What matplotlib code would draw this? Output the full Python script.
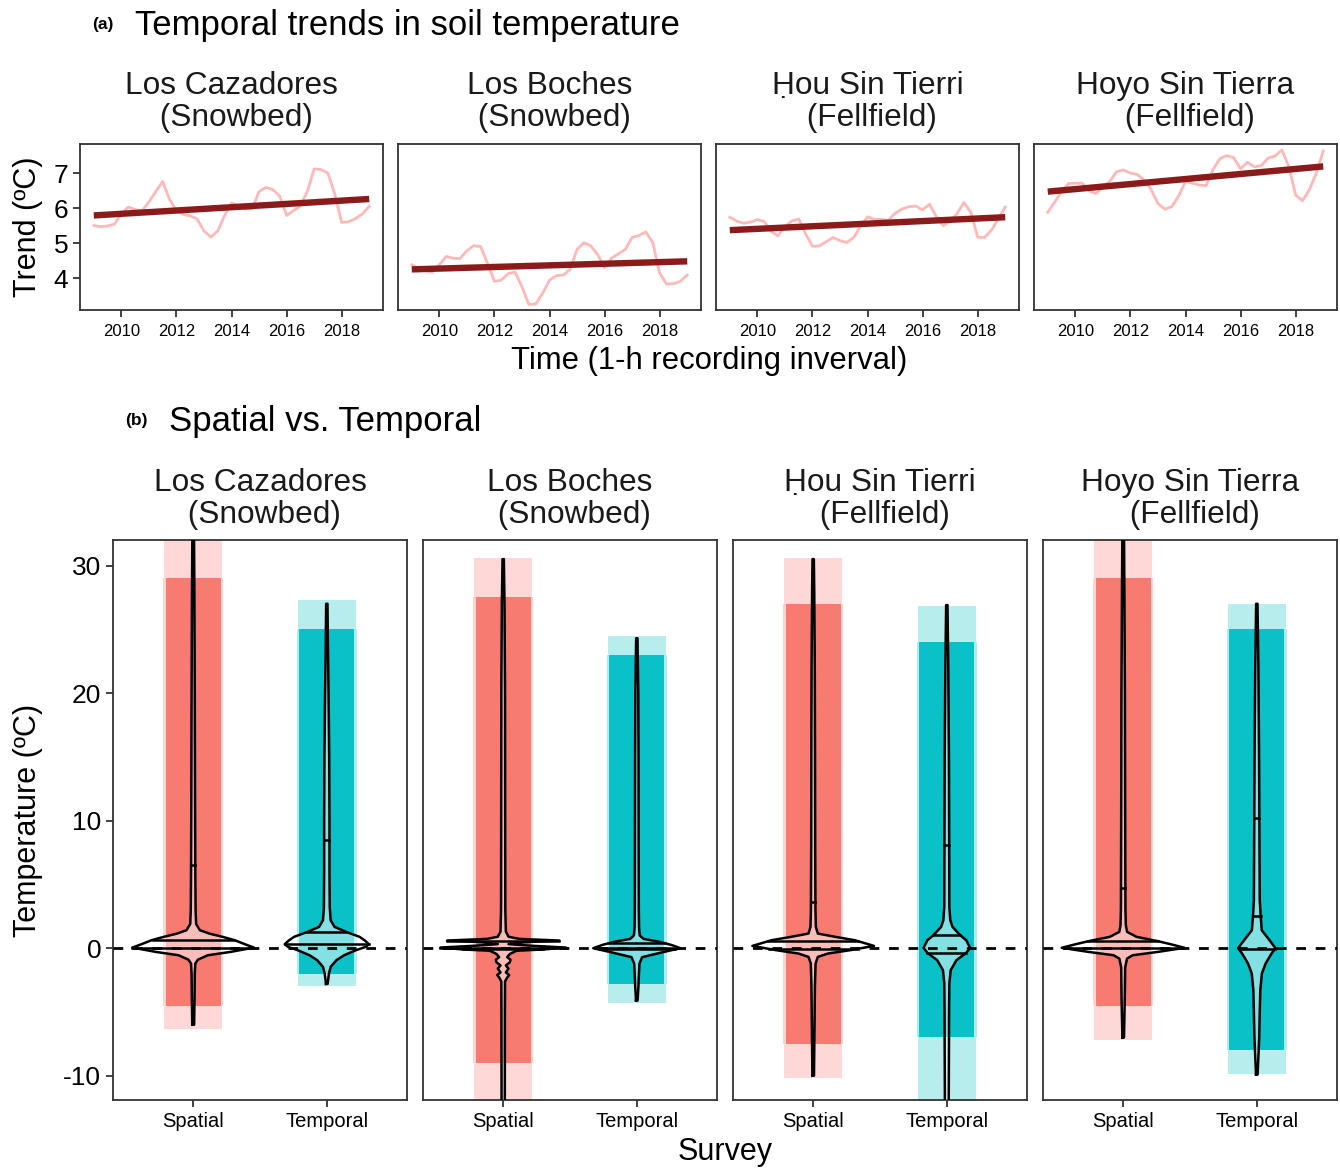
import numpy as np
import matplotlib
matplotlib.use("Agg")
import matplotlib.pyplot as plt

plt.rcParams["font.family"] = ["Liberation Sans", "DejaVu Sans"]
plt.rcParams["axes.unicode_minus"] = False

# ---- data -----------------------------------------------------------------
sites = ["Los Cazadores\n (Snowbed)", "Los Boches\n (Snowbed)",
         "Ḥou Sin Tierri\n (Fellfield)", "Hoyo Sin Tierra\n (Fellfield)"]

years = [2009.0, 2009.25, 2009.5, 2009.75, 2010.0, 2010.25, 2010.5, 2010.75,
         2011.0, 2011.25, 2011.5, 2011.75, 2012.0, 2012.25, 2012.5, 2012.75,
         2013.0, 2013.25, 2013.5, 2013.75, 2014.0, 2014.25, 2014.5, 2014.75,
         2015.0, 2015.25, 2015.5, 2015.75, 2016.0, 2016.25, 2016.5, 2016.75,
         2017.0, 2017.25, 2017.5, 2017.75, 2018.0, 2018.25, 2018.5, 2018.75,
         2019.0]

trend_cazadores = [5.50, 5.47, 5.49, 5.54, 5.83, 6.03, 5.96, 5.92, 6.17, 6.47,
                   6.76, 6.25, 5.93, 5.82, 5.78, 5.69, 5.35, 5.17, 5.35, 5.79,
                   6.15, 6.07, 5.98, 5.98, 6.47, 6.59, 6.53, 6.34, 5.79, 5.93,
                   6.06, 6.47, 7.12, 7.10, 7.00, 6.40, 5.59, 5.61, 5.70, 5.83,
                   6.05]
trend_boches = [4.38, 4.27, 4.21, 4.17, 4.38, 4.62, 4.57, 4.56, 4.78, 4.93,
                4.90, 4.42, 3.91, 3.94, 4.13, 4.17, 3.75, 3.25, 3.26, 3.57,
                3.94, 4.07, 4.09, 4.25, 4.82, 5.01, 4.92, 4.67, 4.30, 4.57,
                4.69, 4.82, 5.16, 5.22, 5.32, 5.01, 4.14, 3.83, 3.84, 3.91,
                4.09]
trend_hou = [5.74, 5.63, 5.57, 5.60, 5.67, 5.62, 5.33, 5.21, 5.47, 5.63,
             5.69, 5.27, 4.91, 4.92, 5.04, 5.16, 5.07, 5.02, 5.16, 5.49,
             5.75, 5.68, 5.68, 5.65, 5.85, 5.97, 6.04, 6.06, 5.95, 6.11,
             5.76, 5.50, 5.62, 5.84, 6.16, 5.88, 5.17, 5.16, 5.37, 5.69,
             6.03]
trend_hoyo = [5.88, 6.17, 6.47, 6.70, 6.71, 6.71, 6.49, 6.42, 6.60, 6.76,
              7.04, 7.09, 7.00, 6.96, 6.80, 6.53, 6.13, 5.97, 6.04, 6.34,
              6.76, 6.71, 6.66, 6.64, 7.10, 7.41, 7.50, 7.44, 7.12, 7.31,
              7.18, 7.21, 7.43, 7.49, 7.66, 7.19, 6.37, 6.21, 6.53, 7.00,
              7.63]
trend_series = [trend_cazadores, trend_boches, trend_hou, trend_hoyo]

# fitted linear trend (value at 2009 and at 2019)
fit_start = [5.79, 4.25, 5.37, 6.47]
fit_end = [6.26, 4.48, 5.74, 7.19]

surveys = ["Spatial", "Temporal"]

# jittered cloud extents: dense core and sparse tails (degC)
core_lo = [[-4.5, -2.0], [-9.0, -2.8], [-7.5, -7.0], [-4.5, -8.0]]
core_hi = [[29.0, 25.0], [27.5, 23.0], [27.0, 24.0], [29.0, 25.0]]
tail_lo = [[-6.3, -3.0], [-13.0, -4.3], [-10.2, -13.0], [-7.2, -9.9]]
tail_hi = [[33.0, 27.3], [30.6, 24.5], [30.6, 26.8], [33.0, 27.0]]

# violin outlines: temperature levels and half-widths
cz_sp_t = [-6.0, -4.0, -2.0, -1.2, -0.9, -0.55, -0.29, 0.05, 0.3, 0.63, 0.89, 1.15, 1.41, 1.9, 3.0, 6.0, 12.0, 20.0, 28.0, 33.0]
cz_sp_w = [0.007, 0.01, 0.012, 0.016, 0.035, 0.11, 0.28, 0.455, 0.39, 0.31, 0.22, 0.12, 0.05, 0.022, 0.018, 0.016, 0.014, 0.012, 0.009, 0.006]
cz_tm_t = [-2.8, -2.3, -1.98, -1.46, -0.94, -0.55, -0.16, 0.1, 0.31, 0.6, 0.89, 1.28, 1.67, 2.19, 3.2, 6.0, 10.0, 15.0, 20.0, 24.0, 27.0]
cz_tm_w = [0.006, 0.012, 0.016, 0.029, 0.072, 0.13, 0.217, 0.29, 0.315, 0.285, 0.245, 0.145, 0.058, 0.029, 0.022, 0.02, 0.02, 0.018, 0.013, 0.008, 0.005]
bo_sp_t = [-13.0, -5.0, -2.6, -2.3, -2.1, -1.9, -1.6, -1.35, -1.1, -0.9, -0.7, -0.45, -0.2, -0.1, 0.05, 0.2, 0.32, 0.47, 0.6, 0.73, 0.9, 1.3, 3.0, 10.0, 20.0, 27.0, 30.5]
bo_sp_w = [0.012, 0.013, 0.014, 0.03, 0.045, 0.02, 0.04, 0.02, 0.05, 0.055, 0.03, 0.05, 0.1, 0.3, 0.47, 0.2, 0.04, 0.15, 0.42, 0.12, 0.04, 0.02, 0.016, 0.015, 0.014, 0.01, 0.005]
bo_tm_t = [-4.1, -3.0, -2.0, -1.2, -0.7, -0.3, 0.0, 0.25, 0.5, 0.73, 1.0, 1.6, 3.0, 8.0, 15.0, 20.0, 24.3]
bo_tm_w = [0.006, 0.012, 0.016, 0.02, 0.04, 0.2, 0.326, 0.26, 0.17, 0.05, 0.022, 0.017, 0.015, 0.014, 0.013, 0.011, 0.005]
hu_sp_t = [-10.0, -6.0, -3.0, -1.2, -0.68, -0.42, -0.15, 0.18, 0.63, 0.89, 1.15, 1.67, 3.0, 8.0, 15.0, 22.0, 28.0, 30.5]
hu_sp_w = [0.006, 0.01, 0.013, 0.018, 0.035, 0.11, 0.28, 0.455, 0.31, 0.165, 0.035, 0.02, 0.017, 0.015, 0.014, 0.012, 0.008, 0.005]
hu_tm_t = [-13.0, -8.0, -5.0, -2.76, -1.72, -0.94, -0.37, 0.03, 0.63, 1.02, 1.67, 2.19, 3.23, 8.0, 15.0, 22.0, 26.9]
hu_tm_w = [0.014, 0.016, 0.017, 0.019, 0.029, 0.072, 0.145, 0.174, 0.145, 0.10, 0.043, 0.026, 0.019, 0.018, 0.016, 0.011, 0.005]
ho_sp_t = [-7.0, -4.0, -1.5, -0.81, -0.55, -0.29, 0.03, 0.3, 0.55, 0.89, 1.28, 1.8, 3.0, 10.0, 20.0, 28.0, 33.0]
ho_sp_w = [0.006, 0.012, 0.015, 0.029, 0.072, 0.26, 0.46, 0.36, 0.26, 0.10, 0.029, 0.02, 0.017, 0.015, 0.013, 0.009, 0.006]
ho_tm_t = [-9.9, -7.0, -5.0, -3.3, -1.98, -1.2, -0.42, 0.0, 0.63, 1.41, 2.5, 3.76, 8.0, 15.0, 22.0, 27.0]
ho_tm_w = [0.006, 0.018, 0.022, 0.026, 0.038, 0.066, 0.11, 0.14, 0.095, 0.037, 0.029, 0.022, 0.02, 0.017, 0.012, 0.005]

violins = [[(cz_sp_t, cz_sp_w), (cz_tm_t, cz_tm_w)],
           [(bo_sp_t, bo_sp_w), (bo_tm_t, bo_tm_w)],
           [(hu_sp_t, hu_sp_w), (hu_tm_t, hu_tm_w)],
           [(ho_sp_t, ho_sp_w), (ho_tm_t, ho_tm_w)]]

# 25/50/75 % quantile lines drawn in the violins
quantiles = [[[0.05, 0.65, 6.5], [0.3, 1.28, 8.5]],
             [[-0.1, 0.05, 0.6], [-0.1, 0.05, 0.4]],
             [[-0.05, 0.55, 3.6], [-0.37, 1.02, 8.1]],
             [[0.0, 0.55, 4.7], [-0.05, 2.5, 10.2]]]

colors = ["#F8766D", "#00BFC4"]

# ---- figure ---------------------------------------------------------------
W, H = 1340, 1168
fig = plt.figure(figsize=(W / 100, H / 100), dpi=100)


def fx(px):
    return px / W


def fy(py):
    return 1 - py / H


def style_axes(ax):
    for s in ax.spines.values():
        s.set_color("#333333")
        s.set_linewidth(1.3)
    ax.tick_params(colors="#333333", labelcolor="black", width=1.3, length=5)


# panel (a)
a_lefts = [80, 398, 716, 1034]
for i, left in enumerate(a_lefts):
    ax = fig.add_axes([fx(left), fy(310), fx(303), 166 / H])
    ax.plot(years, trend_series[i], color="#FFB8B8", lw=2.0, zorder=2)
    ax.plot([years[0], years[-1]], [fit_start[i], fit_end[i]], color="#8B1A1A",
            lw=4.6, solid_capstyle="butt", zorder=3)
    ax.set_xlim(2008.5, 2019.5)
    ax.set_ylim(3.09, 7.83)
    ax.set_xticks([2010, 2012, 2014, 2016, 2018])
    ax.tick_params(axis="x", labelsize=12, pad=5)
    if i == 0:
        ax.set_yticks([4, 5, 6, 7])
        ax.tick_params(axis="y", labelsize=19)
    else:
        ax.set_yticks([])
    style_axes(ax)
    fig.text(fx(left + 151.5), fy(102), sites[i], ha="center", va="center",
             ma="center", fontsize=22.8, linespacing=1.08, color="#1a1a1a")

fig.text(fx(92), fy(25), "(a)", fontsize=12.5, fontweight="bold", va="center")
fig.text(fx(135), fy(25), "Temporal trends in soil temperature", fontsize=25, va="center")
fig.text(fx(28), fy(227), "Trend (ºC)", rotation=90, fontsize=22, ha="center", va="center")
fig.text(fx(709), fy(361), "Time (1-h recording inverval)", fontsize=22.3, ha="center", va="center")

# panel (b)
b_lefts = [113, 423, 733, 1043]
for i, left in enumerate(b_lefts):
    ax = fig.add_axes([fx(left), fy(1100), fx(294), 560 / H])
    for j in range(2):
        x = j + 1
        c = colors[j]
        lo, hi = core_lo[i][j], core_hi[i][j]
        tlo, thi = tail_lo[i][j], tail_hi[i][j]
        # jittered points cloud: dense core, faint tails
        ax.fill_betweenx([lo, hi], x - 0.225, x + 0.225, color=c, alpha=0.3, lw=0, zorder=1)
        ax.fill_betweenx([lo, hi], x - 0.205, x + 0.205, color=c, alpha=0.95, lw=0, zorder=1)
        ax.fill_betweenx([tlo, lo], x - 0.215, x + 0.215, color=c, alpha=0.28, lw=0, zorder=1)
        ax.fill_betweenx([hi, thi], x - 0.215, x + 0.215, color=c, alpha=0.28, lw=0, zorder=1)

        # violin
        t = np.array(violins[i][j][0])
        w = np.array(violins[i][j][1])
        ax.fill_betweenx(t, x - w, x + w, facecolor="white", alpha=0.5, lw=0, zorder=3)
        xs = np.concatenate([x - w, (x + w)[::-1], [x - w[0]]])
        ys = np.concatenate([t, t[::-1], [t[0]]])
        ax.plot(xs, ys, color="black", lw=1.8, zorder=4, solid_joinstyle="round")
        for q in quantiles[i][j]:
            hw = np.interp(q, t, w)
            ax.plot([x - hw, x + hw], [q, q], color="black", lw=1.8, zorder=4)

    ax.axhline(0, color="black", lw=2.0, ls=(0, (3.5, 3.5)), zorder=5)
    ax.set_xlim(0.4, 2.6)
    ax.set_ylim(-11.9, 32.0)
    ax.set_xticks([1, 2])
    ax.set_xticklabels(surveys)
    ax.tick_params(axis="x", labelsize=14.5)
    if i == 0:
        ax.set_yticks([-10, 0, 10, 20, 30])
        ax.set_yticklabels(["-10", "0", "10", "20", "30"])
        ax.tick_params(axis="y", labelsize=19)
    else:
        ax.set_yticks([])
    style_axes(ax)
    fig.text(fx(left + 147), fy(499), sites[i], ha="center", va="center",
             ma="center", fontsize=22.8, linespacing=1.08, color="#1a1a1a")

fig.text(fx(125), fy(421), "(b)", fontsize=12.5, fontweight="bold", va="center")
fig.text(fx(169), fy(421), "Spatial vs. Temporal", fontsize=25, va="center")
fig.text(fx(28), fy(820), "Temperature (ºC)", rotation=90, fontsize=22, ha="center", va="center")
fig.text(fx(725), fy(1152), "Survey", fontsize=22, ha="center", va="center")

fig.savefig("out.png", dpi=100)
